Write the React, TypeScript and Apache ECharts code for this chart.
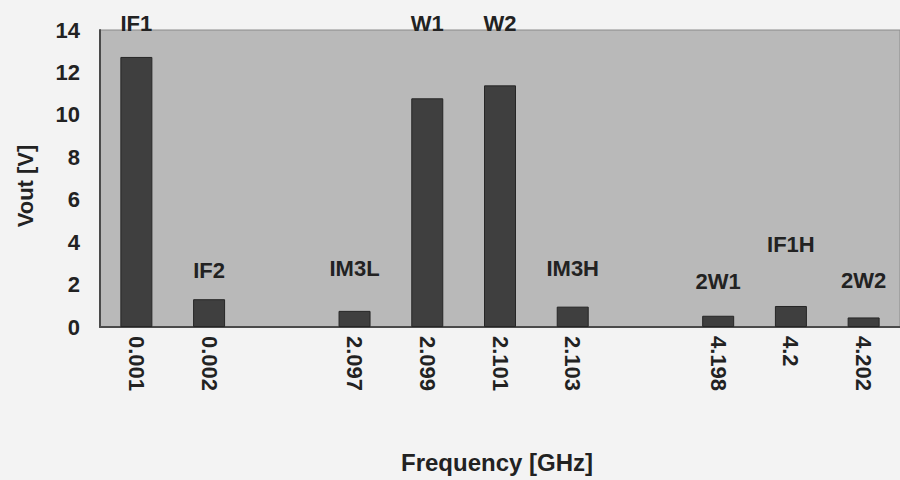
import React, { useEffect, useRef } from "react";
import * as echarts from "echarts";

// Frequency bins (GHz); empty strings leave a gap between the tone groups
const categories = ["0.001", "0.002", "", "2.097", "2.099", "2.101", "2.103", "", "4.198", "4.2", "4.202"];
// Output amplitude per bin (V); null where no bin is drawn
const voutValues: (number | null)[] = [12.73, 1.31, null, 0.76, 10.78, 11.39, 0.96, null, 0.53, 0.99, 0.45];
// Product names and the height (in V) at which each name sits
const toneNames = ["IF1", "IF2", "", "IM3L", "W1", "W2", "IM3H", "", "2W1", "IF1H", "2W2"];
const toneNameHeights: (number | null)[] = [14.3, 2.65, null, 2.75, 14.3, 14.3, 2.75, null, 2.15, 3.9, 2.2];
const yTicks = { min: 0, max: 14, interval: 2 };

const FONT = "'Liberation Sans', Arial, sans-serif";
const TEXT = "#222222";

export default function App() {
  const ref = useRef<HTMLDivElement>(null);

  useEffect(() => {
    if (!ref.current) return;
    const chart = echarts.init(ref.current, undefined, { renderer: "svg" });

    const nameData = toneNames
      .map((n, i) => ({ name: n, value: [i, toneNameHeights[i]] }))
      .filter((d) => d.name !== "" && d.value[1] !== null);

    chart.setOption({
      animation: false,
      backgroundColor: "#f3f3f3",
      grid: {
        left: 100,
        top: 30,
        right: -10,
        bottom: 153,
        show: true,
        backgroundColor: "#b9b9b9",
        borderColor: "#8a8a8a",
        borderWidth: 1,
      },
      xAxis: {
        type: "category",
        data: categories,
        axisLine: { show: true, lineStyle: { color: "#4a4a4a", width: 2 } },
        axisTick: { show: false },
        axisLabel: {
          rotate: -90,
          interval: 0,
          margin: 9,
          color: TEXT,
          fontFamily: FONT,
          fontWeight: "bold",
          fontSize: 22,
        },
        splitLine: { show: false },
      },
      yAxis: {
        type: "value",
        min: yTicks.min,
        max: yTicks.max,
        interval: yTicks.interval,
        axisLine: { show: true, lineStyle: { color: "#4a4a4a", width: 2 } },
        axisTick: { show: false },
        axisLabel: {
          margin: 20,
          color: TEXT,
          fontFamily: FONT,
          fontWeight: "bold",
          fontSize: 22,
        },
        splitLine: { show: false },
      },
      series: [
        {
          type: "bar",
          data: voutValues.map((v) => (v === null ? "-" : v)),
          barWidth: 32,
          itemStyle: { color: "#3f3f3f", borderColor: "#262626", borderWidth: 1 },
        },
        {
          type: "scatter",
          data: nameData,
          symbolSize: 0,
          clip: false,
          itemStyle: { opacity: 1 },
          label: {
            show: true,
            position: "inside",
            formatter: (p: any) => p.name,
            color: TEXT,
            opacity: 1,
            fontFamily: FONT,
            fontWeight: "bold",
            fontSize: 22,
          },
          z: 5,
        },
      ],
      graphic: [
        {
          type: "text",
          x: 497,
          y: 462,
          style: {
            text: "Frequency [GHz]",
            fill: TEXT,
            font: `bold 24px ${FONT}`,
            textAlign: "center",
            textVerticalAlign: "middle",
          },
        },
        {
          type: "text",
          x: 25,
          y: 186,
          rotation: Math.PI / 2,
          style: {
            text: "Vout [V]",
            fill: TEXT,
            font: `bold 22px ${FONT}`,
            textAlign: "center",
            textVerticalAlign: "middle",
          },
        },
      ],
    });

    return () => chart.dispose();
  }, []);

  return (
    <div
      ref={ref}
      style={{ position: "absolute", left: 0, top: 0, width: 900, height: 480 }}
    />
  );
}
